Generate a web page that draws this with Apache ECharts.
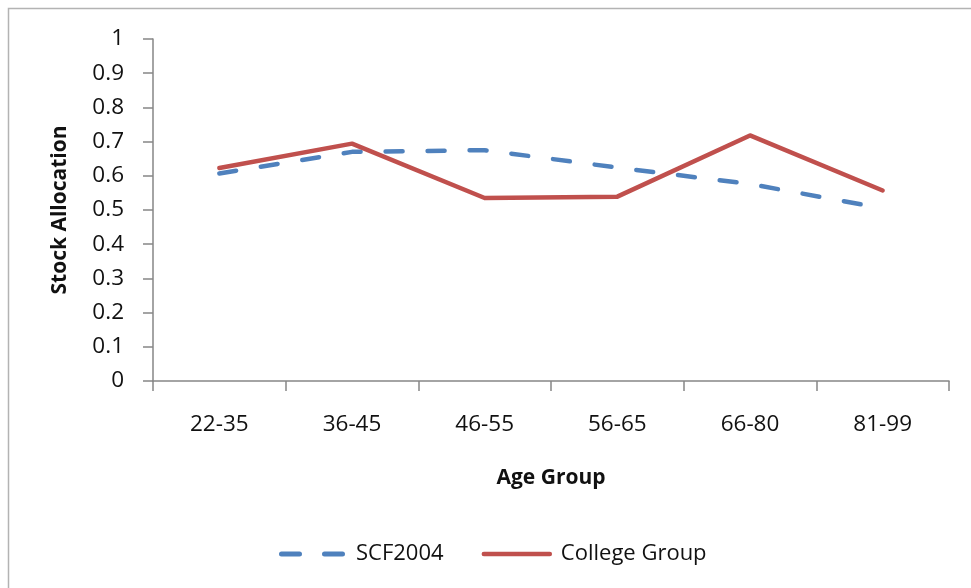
<!DOCTYPE html>
<html>
<head>
<meta charset="utf-8">
<script src="https://cdn.jsdelivr.net/npm/echarts@6/dist/echarts.min.js"></script>
<style>
  html, body { margin: 0; padding: 0; background: #fff; }
  #chart { width: 971px; height: 588px; }
</style>
</head>
<body>
<div id="chart"></div>
<script>
// age groups on the x axis
const ageGroups = ["22-35", "36-45", "46-55", "56-65", "66-80", "81-99"];
// stock allocation
const scf2004 = [0.607, 0.670, 0.675, 0.624, 0.576, 0.505];
const collegeGroup = [0.623, 0.694, 0.535, 0.539, 0.718, 0.557];

const font = "'Open Sans', 'Noto Sans', sans-serif";
const axisGrey = "#868686";

const chart = echarts.init(document.getElementById("chart"), null, { renderer: "canvas" });

chart.setOption({
  animation: false,
  backgroundColor: "#fff",
  textStyle: { fontFamily: font },
  graphic: [
    {
      // outer chart frame (only top and left edges are inside the shot)
      type: "rect",
      shape: { x: 8.5, y: 8.5, width: 1200, height: 1200 },
      style: { fill: null, stroke: "#b3b3b3", lineWidth: 1.5 },
      silent: true,
    },
  ],
  grid: { left: 153, right: 22, top: 39, bottom: 207, containLabel: false },
  legend: {
    left: 274,
    top: 538,
    itemWidth: 66,
    itemHeight: 5,
    itemGap: 38,
    textStyle: { fontFamily: font, fontSize: 22, color: "#111", padding: [0, 0, 0, 6] },
    lineStyle: { width: 4.5 },
    data: [
      // two short dashes, like the dashed series line
      { name: "SCF2004", icon: "path://M2.5,0H20.5A2.5,2.5 0 0 1 20.5,5H2.5A2.5,2.5 0 0 1 2.5,0Z M45.5,0H63.5A2.5,2.5 0 0 1 63.5,5H45.5A2.5,2.5 0 0 1 45.5,0Z" },
      { name: "College Group" },
    ],
  },
  xAxis: {
    type: "category",
    data: ageGroups,
    boundaryGap: true,
    name: "Age Group",
    nameLocation: "middle",
    nameGap: 87,
    nameTextStyle: { fontFamily: font, fontSize: 21, fontWeight: "bold", color: "#111" },
    axisLine: { lineStyle: { color: axisGrey, width: 1.5 } },
    axisTick: { show: true, length: 10, lineStyle: { color: axisGrey, width: 1.5 } },
    axisLabel: { fontFamily: font, fontSize: 22.5, color: "#111", margin: 32 },
    splitLine: { show: false },
  },
  yAxis: {
    type: "value",
    min: 0,
    max: 1,
    interval: 0.1,
    name: "Stock Allocation",
    nameLocation: "middle",
    nameRotate: 90,
    nameGap: 82,
    nameTextStyle: { fontFamily: font, fontSize: 21, fontWeight: "bold", color: "#111" },
    axisLine: { show: true, lineStyle: { color: axisGrey, width: 1.5 } },
    axisTick: { show: true, length: 10, lineStyle: { color: axisGrey, width: 1.5 } },
    axisLabel: { fontFamily: font, fontSize: 22.5, color: "#111", margin: 29 },
    splitLine: { show: false },
  },
  series: [
    {
      name: "SCF2004",
      type: "line",
      data: scf2004,
      symbol: "none",
      smooth: false,
      color: "#4F81BD",
      lineStyle: { color: "#4F81BD", width: 4.5, type: [17, 25], cap: "round", join: "round" },
      z: 2,
    },
    {
      name: "College Group",
      type: "line",
      data: collegeGroup,
      symbol: "none",
      smooth: false,
      color: "#C0504D",
      lineStyle: { color: "#C0504D", width: 4.5, type: "solid", cap: "round", join: "round" },
      z: 3,
    },
  ],
});
</script>
</body>
</html>
